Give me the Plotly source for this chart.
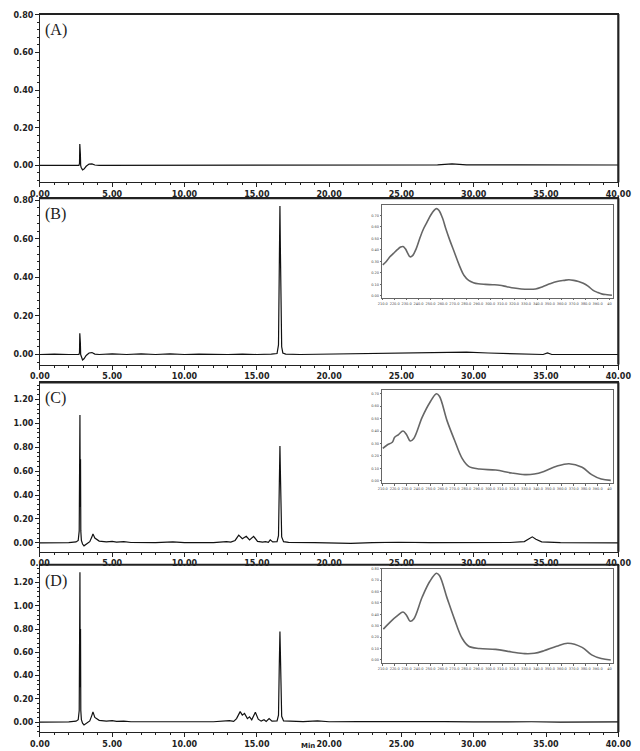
import plotly.graph_objects as go

# ---------------- chromatogram data (time in min, absorbance) ----------------
tA = [0, 1.0, 2.0, 2.70, 2.74, 2.76, 2.77, 2.79, 2.80, 2.82, 2.85, 2.95, 3.05, 3.2, 3.4, 3.6, 3.8, 4.1,
      8, 12, 16, 20, 24, 27.5, 28.5, 29.5, 33, 37, 40]
vA = [0, 0, 0, 0, 0.01, 0.113, 0.02, 0.065, 0.06, 0.0, -0.01, -0.024, -0.02, -0.005, 0.007, 0.008, 0.002, 0.0,
      0.0, 0.0, 0.001, 0.002, 0.003, 0.003, 0.008, 0.003, 0.003, 0.002, 0.002]

tB = [0, 1.0, 2.0, 2.70, 2.74, 2.76, 2.77, 2.79, 2.80, 2.82, 2.85, 2.95, 3.05, 3.2, 3.4, 3.6, 3.8, 4.1,
      5.0, 6.0, 7.0, 8.0, 9.0, 10.0, 11.0, 12.0, 13.0, 14.0, 15.0, 16.0, 16.4, 16.5, 16.55, 16.6, 16.63,
      16.67, 16.72, 16.8, 17.0, 18, 20, 22, 25, 28, 29.5, 31, 33, 34.8, 35.1, 35.4, 37, 40]
vB = [0, 0.002, 0.0, 0, 0.01, 0.11, 0.02, 0.07, 0.06, 0.0, -0.01, -0.028, -0.022, -0.005, 0.008, 0.01, 0.002, 0.0,
      0.003, 0.0, 0.003, 0.0, 0.003, 0.0, 0.002, 0.0, 0.0, 0.002, 0.0, 0.002, 0.005, 0.05, 0.4, 0.77, 0.55,
      0.2, 0.04, 0.008, 0.002, 0.0, 0.002, 0.004, 0.006, 0.008, 0.012, 0.008, 0.003, 0.0, 0.008, 0.0, 0.0, 0.0]

tC = [0, 1.0, 2.0, 2.5, 2.65, 2.72, 2.75, 2.77, 2.79, 2.81, 2.83, 2.87, 2.95, 3.05, 3.2, 3.45, 3.6, 3.67,
      3.8, 4.1, 4.6, 5.0, 5.3, 5.8, 6.3, 8.0, 9.2, 10.0, 12.0, 12.9, 13.2, 13.5, 13.75, 14.0, 14.27, 14.5,
      14.78, 15.05, 15.4, 15.6, 15.8, 15.93, 16.1, 16.4, 16.5, 16.55, 16.6, 16.63, 16.67, 16.72, 16.85, 17.2,
      19, 21.5, 23, 24.8, 27, 30, 32.5, 33.5, 33.8, 34.05, 34.3, 34.7, 36, 38, 40]
vC = [0, 0, 0.002, 0.008, 0.02, 0.1, 0.6, 1.07, 0.3, 0.7, 0.1, 0.02, -0.01, -0.025, -0.01, 0.01, 0.05, 0.075,
      0.04, 0.015, 0.008, 0.012, 0.006, 0.01, 0.003, 0.002, 0.008, 0.002, 0.002, 0.01, 0.006, 0.02, 0.065,
      0.035, 0.055, 0.025, 0.055, 0.012, 0.006, 0.01, 0.004, 0.025, 0.008, 0.01, 0.06, 0.45, 0.81, 0.6, 0.25,
      0.05, 0.01, 0.004, 0.002, -0.005, 0.002, 0.005, 0.002, 0.0, 0.003, 0.01, 0.035, 0.05, 0.03, 0.008, 0.002,
      0.0, 0.0]

tD = [0, 1.0, 2.0, 2.5, 2.65, 2.72, 2.75, 2.77, 2.79, 2.81, 2.83, 2.87, 2.95, 3.05, 3.2, 3.45, 3.6, 3.67,
      3.8, 4.1, 4.6, 5.0, 5.3, 5.8, 6.3, 7.5, 9.2, 10.0, 12.0, 13.1, 13.4, 13.6, 13.85, 14.0, 14.15, 14.35,
      14.5, 14.65, 14.9, 15.1, 15.3, 15.5, 15.65, 15.85, 16.05, 16.4, 16.5, 16.55, 16.6, 16.63, 16.67, 16.72,
      16.85, 17.5, 18.2, 19.2, 20, 22, 24, 26, 28, 30, 32.5, 34, 36, 38, 40]
vD = [0, 0, 0.002, 0.008, 0.02, 0.1, 0.7, 1.29, 0.3, 0.8, 0.1, 0.02, -0.01, -0.025, -0.01, 0.01, 0.06, 0.088,
      0.04, 0.015, 0.008, 0.012, 0.006, 0.009, 0.003, 0.004, 0.006, 0.002, 0.003, 0.012, 0.006, 0.03, 0.09,
      0.06, 0.075, 0.03, 0.045, 0.02, 0.085, 0.025, 0.008, 0.02, 0.006, 0.03, 0.008, 0.01, 0.06, 0.45, 0.78,
      0.6, 0.25, 0.05, 0.01, 0.005, 0.004, 0.01, 0.003, 0.004, 0.006, 0.006, 0.004, 0.002, 0.004, 0.003,
      0.0, 0.002, 0.002]

# ---------------- UV spectra in insets (wavelength nm, absorbance) ----------------
wlB = [210, 213, 216, 219, 222, 225, 227, 229, 231, 233, 235, 238, 241, 244, 247, 250, 253, 255, 257, 260,
       263, 266, 270, 274, 278, 282, 286, 290, 296, 302, 308, 314, 320, 326, 332, 338, 344, 350, 356, 362,
       366, 370, 374, 378, 382, 386, 390, 394, 398, 402]
spB = [0.27, 0.30, 0.34, 0.37, 0.40, 0.425, 0.43, 0.41, 0.37, 0.34, 0.35, 0.41, 0.50, 0.58, 0.64, 0.70,
       0.745, 0.76, 0.745, 0.68, 0.58, 0.49, 0.38, 0.27, 0.18, 0.135, 0.115, 0.105, 0.10, 0.097, 0.093, 0.08,
       0.068, 0.06, 0.057, 0.06, 0.08, 0.105, 0.125, 0.135, 0.14, 0.135, 0.125, 0.11, 0.085, 0.05, 0.03,
       0.015, 0.01, 0.005]

wlC = [210, 214, 218, 220, 223, 227, 230, 233, 236, 243, 249.5, 255, 257.5, 264, 270, 276.5, 282, 291,
       304.6, 318, 329, 337, 345, 355.6, 366, 377, 385, 393, 401]
spC = [0.26, 0.29, 0.31, 0.35, 0.37, 0.40, 0.37, 0.32, 0.34, 0.51, 0.63, 0.70, 0.68, 0.48, 0.33, 0.18,
       0.116, 0.094, 0.086, 0.062, 0.049, 0.054, 0.075, 0.116, 0.137, 0.108, 0.049, 0.013, 0.003]

wlD = [210.5, 216, 222.6, 227, 230, 233, 236, 243, 249.5, 255, 257.5, 264, 270, 276.5, 282, 291, 304.6,
       318, 329, 337, 345, 355.6, 365, 377, 385, 393, 401]
spD = [0.27, 0.33, 0.39, 0.42, 0.39, 0.34, 0.36, 0.55, 0.69, 0.76, 0.74, 0.54, 0.36, 0.19, 0.12, 0.10,
       0.093, 0.07, 0.055, 0.058, 0.08, 0.12, 0.146, 0.11, 0.044, 0.012, 0.0]

panel_labels = ["(A)", "(B)", "(C)", "(D)"]
x_ticks = [0, 5, 10, 15, 20, 25, 30, 35, 40]
inset_x_ticks = list(range(210, 401, 10))

W, H = 640, 751


def py(p):
    return 1 - p / H


fig = go.Figure()

panels = [
    (tA, vA, (11, 180), [-0.090, 0.805], [0, 0.2, 0.4, 0.6, 0.8]),
    (tB, vB, (196, 363), [-0.052, 0.810], [0, 0.2, 0.4, 0.6, 0.8]),
    (tC, vC, (381, 551), [-0.075, 1.342], [0, 0.2, 0.4, 0.6, 0.8, 1.0, 1.2]),
    (tD, vD, (564, 732), [-0.086, 1.354], [0, 0.2, 0.4, 0.6, 0.8, 1.0, 1.2]),
]

tickfont = dict(family="DejaVu Sans", size=8, color="#222", weight="bold")
xdom = [31 / W, 631 / W]

for i, (t, v, (top, bot), yr, yt) in enumerate(panels):
    n = i + 1
    xa = "x" if n == 1 else f"x{n}"
    ya = "y" if n == 1 else f"y{n}"
    fig.add_trace(go.Scatter(x=t, y=v, mode="lines", line=dict(color="#111", width=1.2),
                             xaxis=xa, yaxis=ya, showlegend=False, hoverinfo="skip"))
    fig.layout[f"xaxis{'' if n == 1 else n}"] = dict(
        domain=xdom, anchor=ya, range=[0, 40], tickvals=x_ticks,
        ticktext=[f"{x:.2f}" for x in x_ticks], ticks="outside", ticklen=4, tickcolor="#222",
        minor=dict(dtick=1, ticks="outside", ticklen=2, tickcolor="#222"),
        showline=True, linecolor="#222", linewidth=1, mirror=True, showgrid=False, zeroline=False,
        tickfont=tickfont, ticklabeloverflow="allow")
    fig.layout[f"yaxis{'' if n == 1 else n}"] = dict(
        domain=[py(bot), py(top)], anchor=xa, range=yr, tickvals=yt,
        ticktext=[f"{y:.2f}" for y in yt], ticks="outside", ticklen=4, tickcolor="#222",
        minor=dict(dtick=0.04, ticks="outside", ticklen=2, tickcolor="#222"),
        showline=True, linecolor="#222", linewidth=1, mirror=True, showgrid=False, zeroline=False,
        tickfont=tickfont, ticklabeloverflow="allow")
    # heavier top/right frame
    fig.add_shape(type="line", xref="paper", yref="paper", x0=xdom[0], x1=xdom[1], y0=py(top), y1=py(top),
                  line=dict(color="#222", width=2))
    fig.add_shape(type="line", xref="paper", yref="paper", x0=xdom[1], x1=xdom[1], y0=py(bot), y1=py(top),
                  line=dict(color="#222", width=2.2))
    fig.add_annotation(text=panel_labels[i], xref="paper", yref="paper", x=34 / W, y=py(top + 16),
                       xanchor="left", yanchor="middle", showarrow=False,
                       font=dict(family="Liberation Serif", size=16, color="#222"))

insets = [
    (wlB, spB, (203, 296), [-0.017, 0.79], [0, 0.1, 0.2, 0.3, 0.4, 0.5, 0.6, 0.7]),
    (wlC, spC, (389, 482), [-0.019, 0.727], [0, 0.1, 0.2, 0.3, 0.4, 0.5, 0.6, 0.7]),
    (wlD, spD, (568, 663), [-0.03, 0.80], [0, 0.1, 0.2, 0.3, 0.4, 0.5, 0.6, 0.7, 0.8]),
]
ixdom = [386 / W, 625 / W]
smallfont = dict(family="DejaVu Sans", size=3.5, color="#444")
for j, (wl, sp, (top, bot), yr, yt) in enumerate(insets):
    n = 5 + j
    fig.add_trace(go.Scatter(x=wl, y=sp, mode="lines", line=dict(color="#666", width=1.6, shape="spline"),
                             xaxis=f"x{n}", yaxis=f"y{n}", showlegend=False, hoverinfo="skip"))
    fig.layout[f"xaxis{n}"] = dict(
        domain=ixdom, anchor=f"y{n}", range=[209.5, 402.5], tickvals=inset_x_ticks,
        ticktext=[f"{x:.1f}" if x < 400 else "40" for x in inset_x_ticks], ticks="outside", ticklen=1.5,
        tickcolor="#666", showline=True, linecolor="#666", linewidth=1, mirror=True, showgrid=False,
        zeroline=False, tickfont=smallfont, tickangle=0)
    fig.layout[f"yaxis{n}"] = dict(
        domain=[py(bot), py(top)], anchor=f"x{n}", range=yr, tickvals=yt,
        ticktext=[f"{y:.2f}" for y in yt], ticks="outside", ticklen=1.5, tickcolor="#666",
        showline=True, linecolor="#666", linewidth=1, mirror=True, showgrid=False, zeroline=False,
        tickfont=smallfont)

fig.add_annotation(text="Min", xref="paper", yref="paper", x=309 / W, y=py(751), xanchor="center",
                   yanchor="bottom", showarrow=False, borderpad=0,
                   font=dict(family="DejaVu Sans", size=7, color="#222", weight="bold"))

fig.update_layout(width=W, height=H, margin=dict(l=0, r=0, t=0, b=0), paper_bgcolor="white",
                  plot_bgcolor="white")

fig.write_html("out.html", post_script="document.body.style.margin='0';")
